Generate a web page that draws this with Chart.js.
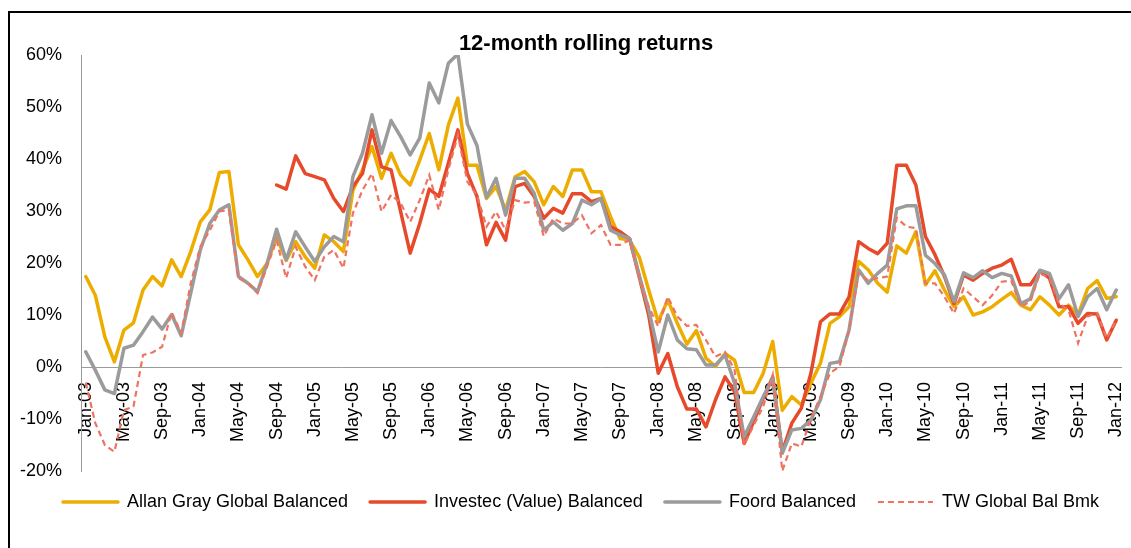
<!DOCTYPE html>
<html>
<head>
<meta charset="utf-8">
<title>12-month rolling returns</title>
<script src="https://cdn.jsdelivr.net/npm/chart.js@4.4.0/dist/chart.umd.min.js"></script>
<style>
  html, body { margin: 0; padding: 0; background: #fff; overflow: hidden; }
  #wrap { position: relative; width: 1131px; height: 548px; }
  #frame { position: absolute; left: 8px; top: 11px; width: 1200px; height: 600px;
           border-top: 2px solid #000; border-left: 2px solid #000; }
  #chart { position: absolute; left: 0; top: 0; }
</style>
</head>
<body>
<div id="wrap">
  <div id="frame"></div>
  <canvas id="chart" width="1131" height="548"></canvas>
</div>
<script>
const monthNames = ['Jan', 'Feb', 'Mar', 'Apr', 'May', 'Jun', 'Jul', 'Aug', 'Sep', 'Oct', 'Nov', 'Dec'];
const yearLabels = ['03', '04', '05', '06', '07', '08', '09', '10', '11', '12'];
const yTicks = [-20, -10, 0, 10, 20, 30, 40, 50, 60];

// monthly categories Jan-03 .. Jan-12
const categories = [];
yearLabels.forEach(y => {
  monthNames.forEach(m => {
    if (y === '12' && m !== 'Jan') return;
    categories.push(m + '-' + y);
  });
});

const allanGray = [
  17.4, 13.8, 5.8, 1.0, 7.1, 8.5, 14.8, 17.4, 15.6, 20.6, 17.4, 22.2,
  27.9, 30.2, 37.4, 37.6, 23.5, 20.6, 17.4, 19.9, 25.0, 20.5, 24.1, 21.2,
  19.0, 25.4, 24.1, 22.2, 34.0, 37.9, 42.4, 36.3, 41.1, 36.9, 35.0, 39.8,
  44.9, 37.9, 46.5, 51.7, 38.8, 38.8, 32.4, 34.7, 30.2, 36.6, 37.6, 35.6,
  31.2, 34.7, 32.8, 37.9, 37.9, 33.7, 33.7, 28.9, 24.7, 24.4, 21.2, 14.8,
  8.7, 12.9, 8.4, 4.4, 7.0, 1.7, 0.1, 2.6, 1.3, -4.9, -4.9, -1.2,
  4.9, -8.3, -5.7, -7.3, -3.1, 0.7, 8.4, 9.7, 11.6, 20.3, 18.7, 16.1,
  14.4, 23.3, 21.9, 26.0, 15.8, 18.5, 14.8, 11.6, 13.5, 10.0, 10.6, 11.6,
  13.0, 14.3, 11.9, 11.0, 13.5, 11.9, 10.0, 11.9, 10.0, 15.1, 16.6, 13.2,
  13.5
];

const investec = [
  null, null, null, null, null, null, null, null, null, null, null, null,
  null, null, null, null, null, null, null, null, 35.0, 34.2, 40.6, 37.2,
  36.6, 36.0, 32.4, 29.9, 34.7, 37.2, 45.6, 38.5, 37.9, 29.9, 21.9, 27.6,
  34.2, 32.8, 39.2, 45.6, 37.2, 32.8, 23.5, 27.8, 24.4, 34.7, 35.3, 32.8,
  28.6, 30.5, 29.6, 33.3, 33.3, 31.8, 32.4, 27.0, 26.0, 24.7, 17.4, 10.0,
  -1.2, 2.6, -3.8, -8.1, -8.1, -11.5, -6.3, -1.9, -4.7, -14.7, -10.5, -6.0,
  -1.9, -16.3, -10.8, -7.9, -1.2, 8.7, 10.2, 10.2, 13.5, 24.1, 22.8, 21.8,
  23.8, 38.8, 38.8, 35.0, 25.1, 21.6, 17.4, 12.2, 17.7, 16.7, 18.0, 19.0,
  19.6, 20.7, 15.8, 15.8, 18.5, 17.1, 11.6, 11.6, 8.4, 10.3, 10.2, 5.2,
  9.0
];

const foord = [
  2.9, -0.6, -4.4, -5.1, 3.6, 4.2, 6.8, 9.6, 7.3, 10.1, 6.0, 14.2,
  22.5, 27.6, 30.2, 31.2, 17.4, 16.1, 14.5, 19.9, 26.5, 20.6, 26.0, 23.1,
  20.3, 23.1, 25.1, 24.1, 36.6, 41.1, 48.5, 41.1, 47.4, 44.3, 40.8, 44.0,
  54.6, 50.8, 58.4, 60.2, 46.7, 42.6, 32.6, 36.3, 29.2, 36.3, 36.3, 33.4,
  26.3, 27.9, 26.3, 27.6, 32.1, 31.2, 32.4, 26.3, 25.4, 24.7, 17.7, 11.0,
  2.9, 10.0, 5.2, 3.5, 3.3, 0.4, 0.4, 2.3, -3.1, -13.4, -9.6, -5.7,
  -2.2, -16.6, -12.1, -11.8, -10.2, -6.3, 0.7, 1.0, 7.1, 18.7, 16.1, 18.0,
  19.6, 30.4, 31.0, 31.0, 21.5, 19.9, 17.7, 12.6, 18.1, 17.2, 18.5, 17.2,
  18.0, 17.5, 12.2, 13.1, 18.6, 18.0, 13.1, 15.8, 9.7, 13.5, 15.1, 11.0,
  14.8
];

const twBenchmark = [
  -3.0, -10.8, -15.0, -16.3, -8.3, -7.6, 2.3, 2.8, 3.9, 10.5, 6.5, 16.1,
  23.1, 26.3, 29.9, 30.2, 17.1, 16.1, 14.2, 19.3, 24.4, 17.1, 23.1, 19.3,
  16.7, 21.2, 22.5, 19.0, 29.6, 34.0, 37.2, 29.9, 33.1, 31.5, 27.9, 32.1,
  36.9, 30.2, 37.9, 44.6, 35.6, 33.0, 27.0, 29.9, 26.3, 32.1, 31.6, 31.8,
  25.1, 28.6, 27.6, 27.6, 29.2, 25.7, 27.3, 23.5, 23.5, 24.4, 17.4, 11.6,
  7.8, 13.5, 9.7, 7.9, 8.1, 5.2, 2.0, 2.9, -0.6, -15.0, -11.2, -7.6,
  -1.5, -20.0, -14.7, -15.3, -9.9, -5.7, -1.2, 0.1, 7.1, 18.0, 16.7, 17.1,
  17.4, 28.7, 27.0, 26.7, 16.1, 16.1, 13.5, 10.3, 15.1, 13.5, 11.9, 13.8,
  16.4, 16.6, 11.6, 12.6, 18.0, 17.1, 12.2, 11.0, 4.6, 9.7, 10.4, 5.5,
  9.0
];

const FONT = 'Liberation Sans';
const axisGray = '#9a9a9a';
const chartTitle = '12-month rolling returns';

// title sits inside the top of the plot, a little left of centre
const titlePlugin = {
  id: 'plotTitle',
  afterDraw(chart) {
    const c = chart.ctx;
    const area = chart.chartArea;
    c.save();
    c.font = 'bold 22px "' + FONT + '"';
    c.fillStyle = '#000';
    c.textAlign = 'center';
    c.textBaseline = 'middle';
    c.fillText(chartTitle, (area.left + area.right) / 2 - 15, area.top - 11);
    c.restore();
  }
};

const ctx = document.getElementById('chart').getContext('2d');

new Chart(ctx, {
  type: 'line',
  data: {
    labels: categories,
    datasets: [
      { label: 'Allan Gray Global Balanced', data: allanGray, borderColor: '#EDAD00', backgroundColor: '#EDAD00',
        borderWidth: 3.5, borderCapStyle: 'round', borderJoinStyle: 'round', order: 4 },
      { label: 'Investec (Value) Balanced', data: investec, borderColor: '#E64A2A', backgroundColor: '#E64A2A',
        borderWidth: 3.5, borderCapStyle: 'round', borderJoinStyle: 'round', order: 3 },
      { label: 'Foord Balanced', data: foord, borderColor: '#9B9B9B', backgroundColor: '#9B9B9B',
        borderWidth: 3.5, borderCapStyle: 'round', borderJoinStyle: 'round', order: 2 },
      { label: 'TW Global Bal Bmk', data: twBenchmark, borderColor: '#EE7361', backgroundColor: '#EE7361',
        borderWidth: 2.2, borderDash: [6, 4], order: 1 }
    ]
  },
  plugins: [titlePlugin],
  options: {
    responsive: false,
    animation: false,
    devicePixelRatio: 1,
    layout: { padding: { left: 8, right: 10, top: 55, bottom: 27 } },
    elements: { point: { radius: 0, hoverRadius: 0 }, line: { tension: 0 } },
    plugins: {
      tooltip: { enabled: false },
      title: { display: false },
      legend: {
        position: 'bottom',
        align: 'end',
        labels: {
          usePointStyle: true,
          pointStyle: 'line',
          pointStyleWidth: 55,
          padding: 22,
          color: '#000',
          font: { family: FONT, size: 18 },
          sort: (a, b) => a.datasetIndex - b.datasetIndex,
          generateLabels: chart => {
            const items = Chart.defaults.plugins.legend.labels.generateLabels(chart);
            items.forEach(item => {
              const ds = chart.data.datasets[item.datasetIndex];
              item.lineWidth = ds.borderWidth;
              item.lineDash = ds.borderDash || [];
              item.lineCap = ds.borderCapStyle || 'butt';
              item.strokeStyle = ds.borderColor;
            });
            return items;
          }
        }
      }
    },
    scales: {
      x: {
        type: 'category',
        offset: true,
        position: { y: 0 },
        grid: { display: false, drawTicks: false },
        border: { display: true, color: axisGray, width: 1 },
        ticks: {
          autoSkip: false,
          minRotation: 90,
          maxRotation: 90,
          padding: 15,
          color: '#000',
          font: { family: FONT, size: 18 },
          callback: function (value, index) {
            return index % 4 === 0 ? this.getLabelForValue(value) : '';
          }
        },
        afterFit: s => { s.paddingLeft = 0; s.paddingRight = 0; }
      },
      y: {
        min: yTicks[0],
        max: yTicks[yTicks.length - 1],
        grid: { display: false, drawTicks: false },
        border: { display: true, color: axisGray, width: 1 },
        ticks: {
          stepSize: 10,
          padding: 19,
          color: '#000',
          font: { family: FONT, size: 18 },
          callback: v => v + '%'
        },
        afterFit: s => { s.width = 73; }
      }
    }
  }
});
</script>
</body>
</html>
